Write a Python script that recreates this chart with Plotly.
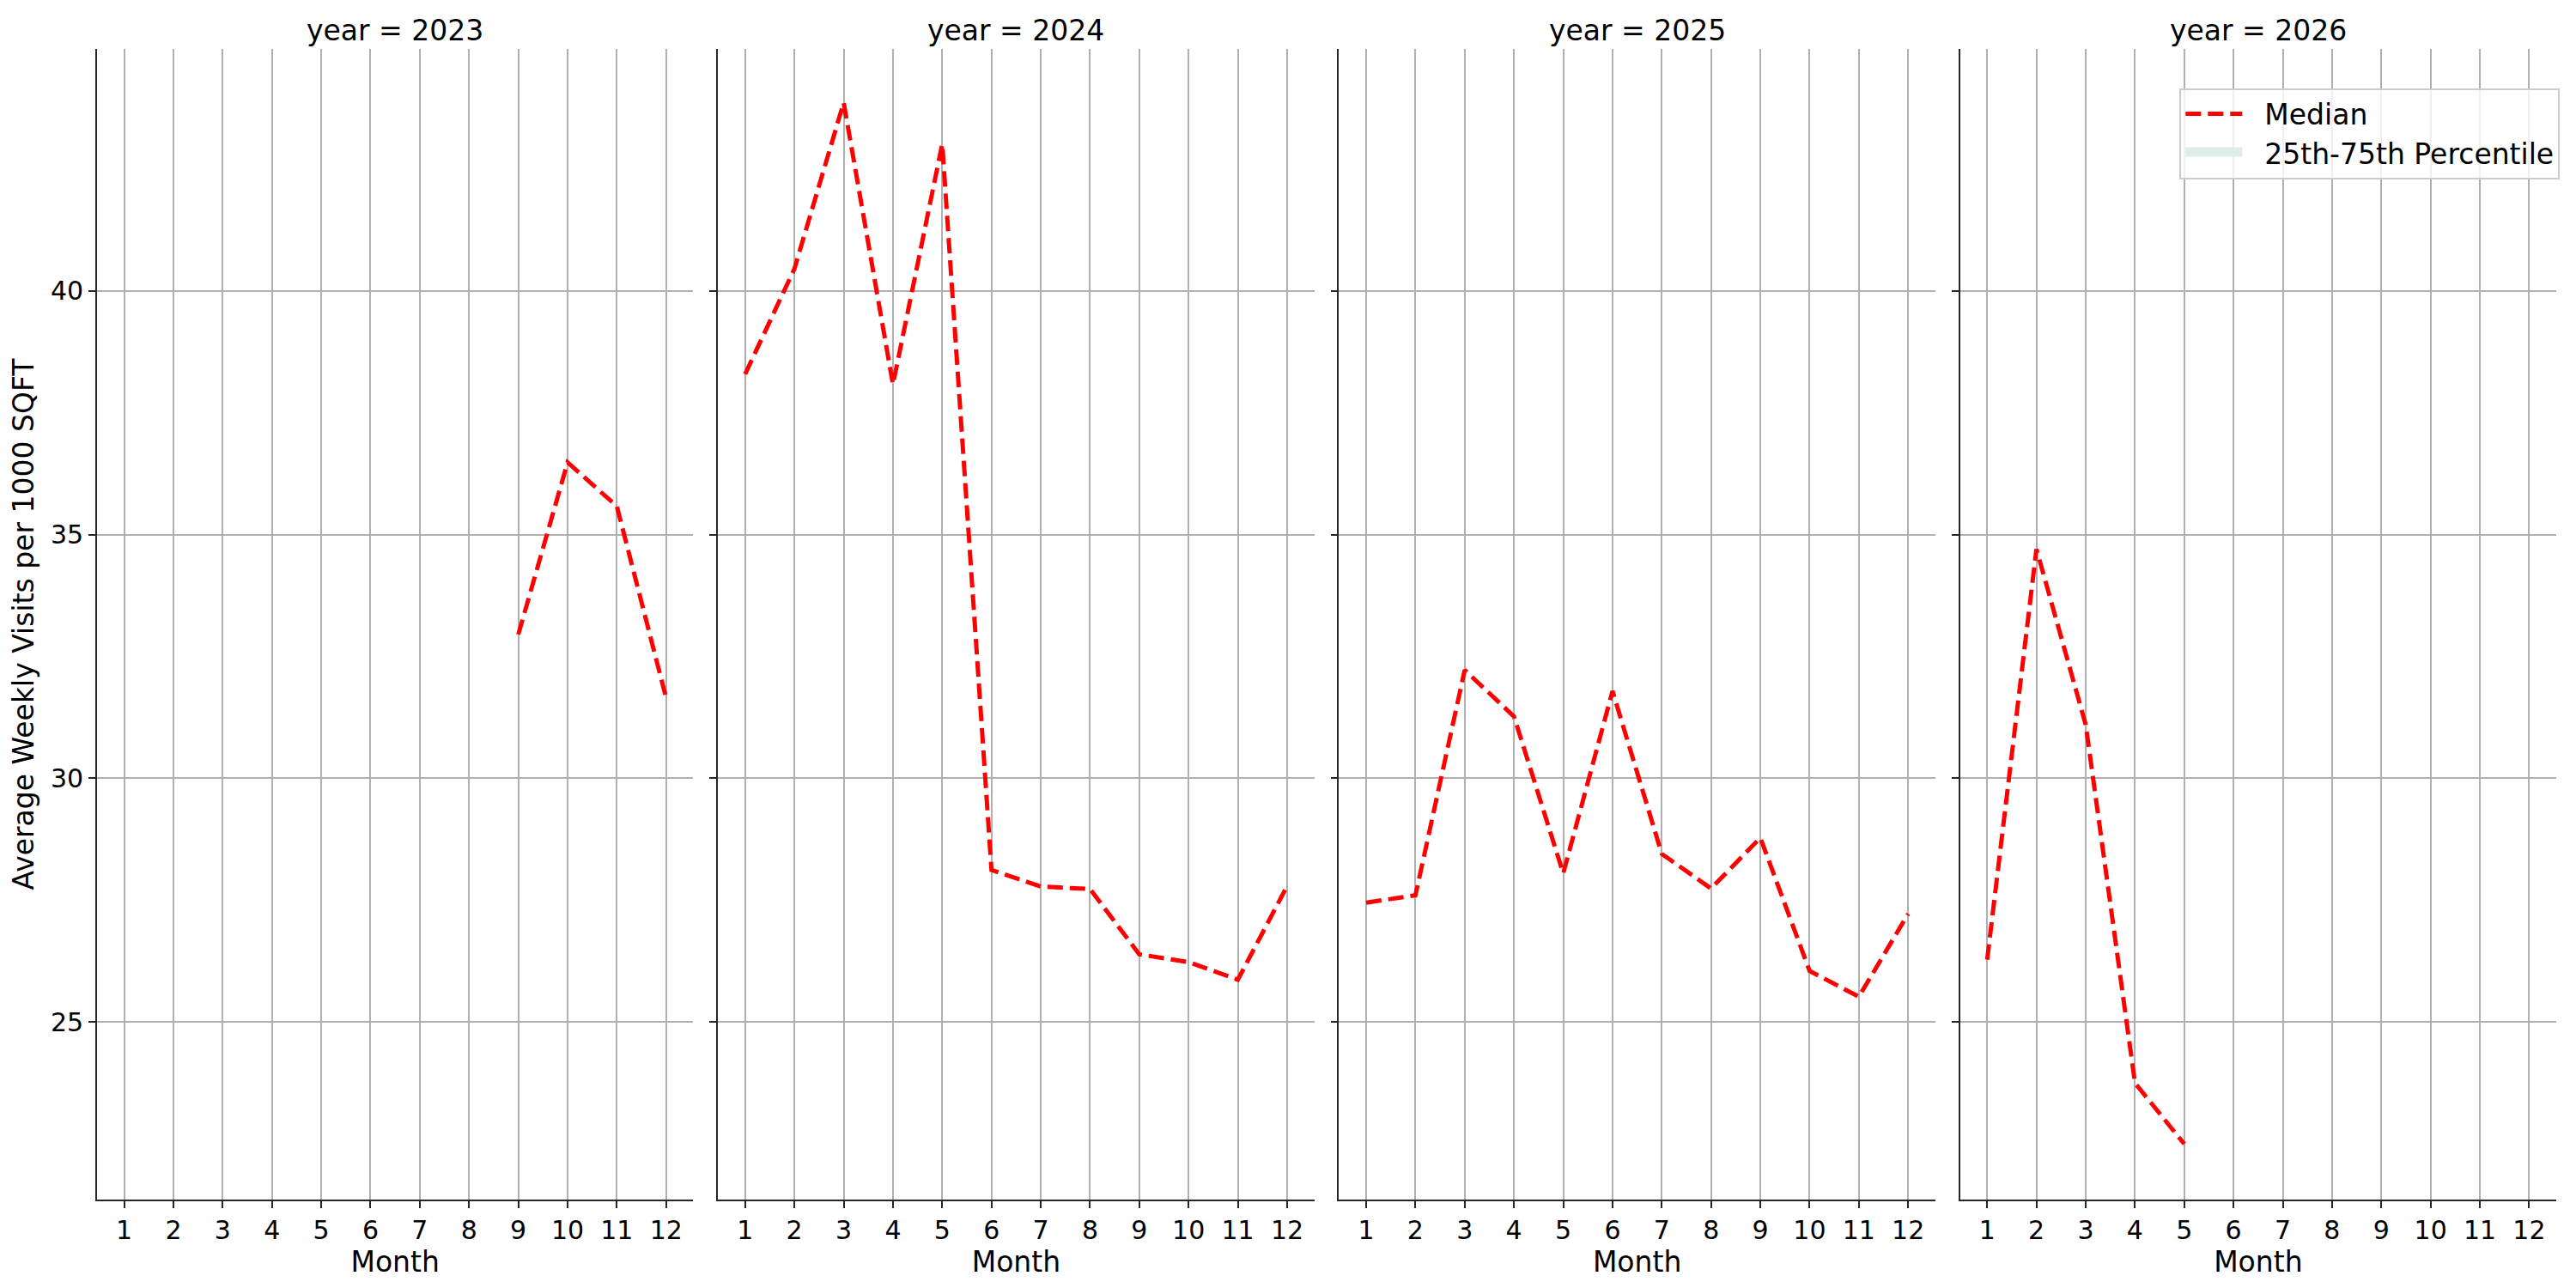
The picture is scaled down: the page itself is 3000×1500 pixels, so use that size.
import plotly.graph_objects as go
from plotly.subplots import make_subplots

years = [2023, 2024, 2025, 2026]

months_2023 = [9, 10, 11, 12]
median_2023 = [32.95, 36.48, 35.58, 31.65]

months_2024 = [1, 2, 3, 4, 5, 6, 7, 8, 9, 10, 11, 12]
median_2024 = [38.29, 40.45, 43.86, 38.08, 43.01, 28.12, 27.78, 27.73, 26.39, 26.23, 25.87, 27.79]

months_2025 = [1, 2, 3, 4, 5, 6, 7, 8, 9, 10, 11, 12]
median_2025 = [27.45, 27.6, 32.22, 31.27, 28.05, 31.79, 28.45, 27.74, 28.78, 26.05, 25.52, 27.22]

months_2026 = [1, 2, 3, 4, 5]
median_2026 = [26.28, 34.7, 31.1, 23.75, 22.5]

# no percentile values are drawn in the picture, only the legend entry
band_months = [None]
band_values = [None]

month_ticks = list(range(1, 13))
y_ticks = [25, 30, 35, 40]

series = {
    2023: (months_2023, median_2023),
    2024: (months_2024, median_2024),
    2025: (months_2025, median_2025),
    2026: (months_2026, median_2026),
}

font = "DejaVu Sans"
nb = "\u00a0" * 2  # gap between legend sample and label

fig = make_subplots(rows=1, cols=4, shared_yaxes=True, horizontal_spacing=0.0101,
                    subplot_titles=[f"year = {y}" for y in years])

for i, yr in enumerate(years):
    mx, my = series[yr]
    fig.add_trace(go.Scatter(x=mx, y=my, mode="lines", name=nb + "Median",
                             line=dict(color="red", width=5, dash="18px,8px"),
                             showlegend=(yr == 2026), legendrank=1),
                  row=1, col=i + 1)

fig.add_trace(go.Scatter(x=band_months, y=band_values, mode="lines", fill="toself",
                         fillcolor="#ddeee9", line=dict(color="#ddeee9", width=10),
                         name=nb + "25th-75th Percentile", legendrank=2),
              row=1, col=4)

for a in fig.layout.annotations:
    a.font = dict(family=font, size=33, color="black")

fig.update_xaxes(tickvals=month_ticks, range=[0.45, 12.55], automargin=False,
                 showgrid=True, gridcolor="#b0b0b0", gridwidth=1.5,
                 showline=True, linecolor="#262626", linewidth=1.7,
                 ticks="outside", ticklen=8, tickwidth=1.5, tickcolor="#262626",
                 tickfont=dict(family=font, size=30, color="black"),
                 title=dict(text="Month", font=dict(family=font, size=33, color="black"),
                            standoff=4),
                 zeroline=False)
fig.update_yaxes(tickvals=y_ticks, range=[21.36, 44.96], automargin=False,
                 showgrid=True, gridcolor="#b0b0b0", gridwidth=1.5,
                 showline=True, linecolor="#262626", linewidth=1.7,
                 ticks="outside", ticklen=8, tickwidth=1.5, tickcolor="#262626",
                 tickfont=dict(family=font, size=30, color="black"),
                 zeroline=False)
fig.update_yaxes(title=dict(text="Average Weekly Visits per 1000 SQFT",
                            font=dict(family=font, size=33, color="black"),
                            standoff=12),
                 row=1, col=1)

# the page body adds an 8px offset, so the figure is 8px smaller
fig.update_layout(
    width=2992, height=1492,
    margin=dict(l=105, r=23, t=49, b=103),
    paper_bgcolor="white", plot_bgcolor="white",
    font=dict(family=font, color="black"),
    legend=dict(x=1.0015, y=0.966, xanchor="right", yanchor="top",
                bgcolor="rgba(255,255,255,0.8)", bordercolor="#cccccc", borderwidth=2,
                font=dict(family=font, size=33, color="black"),
                itemwidth=66),
)

fig.write_html("out.html")
